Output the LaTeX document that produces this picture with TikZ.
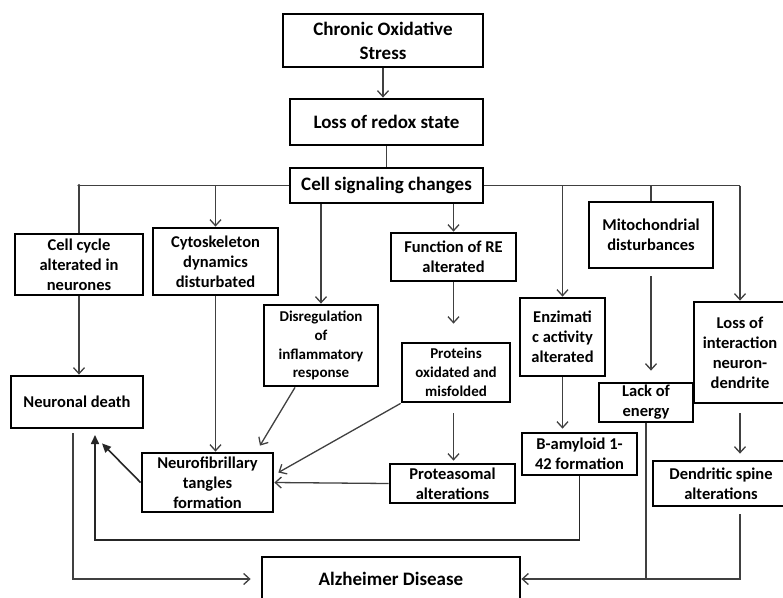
\documentclass[tikz,border=0pt]{standalone}
\usepackage{fontspec}
\setmainfont{Carlito}
\usetikzlibrary{arrows.meta}

\begin{document}
\begin{tikzpicture}[x=1pt,y=-1pt,
    box/.style={draw,line width=2.8pt,align=center,inner sep=0pt,%
      font=\bfseries\fontsize{16.5}{20}\selectfont},
    big/.style={font=\bfseries\fontsize{19}{24}\selectfont},
    small/.style={font=\bfseries\fontsize{15}{18.8}\selectfont},
    link/.style={line width=1.3pt,black!75},
    arr/.style={link,-{Straight Barb[length=6pt,width=11pt]}},
    back/.style={line width=1.6pt,black!85,-{Triangle[length=9pt,width=8pt]}}]
      \path[use as bounding box,fill=white] (0,0) rectangle (783,597) ;
      % boxes
      \node[box,big,minimum width=200,minimum height=53] (C) at (383,40.5) %
      {Chronic Oxidative\\Stress} ;
      \node[box,big,minimum width=193,minimum height=46] (R) at (386.5,122) %
      {Loss of redox state} ;
      \node[box,big,minimum width=193,minimum height=35] (S) at (386.5,185.5) %
      {Cell signaling changes} ;
      \node[box,minimum width=128,minimum height=61] (CC) at (79,264.5) %
      {Cell cycle\\alterated in\\neurones} ;
      \node[box,minimum width=125,minimum height=67] (CD) at (215.5,261.5) %
      {Cytoskeleton\\dynamics\\disturbated} ;
      \node[box,minimum width=125,minimum height=48] (RE) at (453.5,257) %
      {Function of RE\\alterated} ;
      \node[box,minimum width=124,minimum height=66] (MD) at (651,235) %
      {Mitochondrial\\disturbances} ;
      \node[box,small,minimum width=114,minimum height=81] (DI) at (321,345.5) %
      {Disregulation\\of\\inflammatory\\response} ;
      \node[box,minimum width=85,minimum height=78] (EA) at (562.5,337) %
      {Enzimati\\c activity\\alterated} ;
      \node[box,minimum width=92,minimum height=101] (LI) at (740,352.5) %
      {Loss of\\interaction\\neuron-\\dendrite} ;
      \node[box,minimum width=132,minimum height=52] (ND) at (77,402) %
      {Neuronal death} ;
      \node[box,small,minimum width=108,minimum height=59] (PO) at (456,372.5) %
      {Proteins\\oxidated and\\misfolded} ;
      \node[box,minimum width=94,minimum height=39] (LE) at (646,402.5) %
      {Lack of\\energy} ;
      \node[box,minimum width=131,minimum height=59] (NF) at (207.5,482.5) %
      {Neurofibrillary\\tangles\\formation} ;
      \node[box,minimum width=115,minimum height=42] (BA) at (579.5,454) %
      {B-amyloid 1-\\42 formation} ;
      \node[box,minimum width=125,minimum height=39] (PA) at (452.5,483.5) %
      {Proteasomal\\alterations} ;
      \node[box,minimum width=136,minimum height=45] (DS) at (721,483.5) %
      {Dendritic spine\\alterations} ;
      \node[box,big,minimum width=258,minimum height=44] (AD) at (391,579) %
      {Alzheimer Disease} ;
      % top chain and buses
      \draw[arr] (C.south) -- (C.south |- R.north) ;
      \draw[link] (R.south) -- (R.south |- S.north) ;
      \draw[link] (S.west) -- (CC.north |- S.west) -- (CC.north) ;
      \fill[black!75] (CC.north |- S.west) circle (1.6) ;
      \draw[arr] (CD.north |- S.west) -- (CD.north) ;
      \draw[arr] (S.south -| DI.north) -- (DI.north) ;
      \draw[arr] (S.south -| RE.north) -- (RE.north) ;
      \draw[link] (S.east) -- (LI.north |- S.east) ;
      \draw[arr] (EA.north |- S.east) -- (EA.north) ;
      \draw[link] (MD.north |- S.east) -- (MD.north) ;
      \draw[arr] (LI.north |- S.east) -- (LI.north) ;
      % middle
      \draw[arr] (CC.south) -- (CC.south |- ND.north) ;
      \draw[arr] (CD.south) -- (CD.south |- NF.north) ;
      \draw[arr] ([xshift=-26]DI.south) -- ([xshift=52.5,yshift=6]NF.north) ;
      \draw[arr,shorten >=18pt] (RE.south) -- (RE.south |- PO.north) ;
      \draw[arr,shorten <=10pt,shorten >=2pt] (RE.south |- PO.south) -- (RE.south |- PA.north) ;
      \draw[arr] (PO.south west) -- ([xshift=4,yshift=10]NF.east) ;
      \draw[arr] (PA.west) -- (NF.east) ;
      \draw[arr,shorten >=3pt] (EA.south) -- (EA.south |- BA.north) ;
      \draw[arr,shorten <=7pt,shorten >=11pt] (MD.south) -- (MD.south |- LE.north) ;
      \draw[arr,shorten <=9pt,shorten >=6pt] (LI.south) -- (LI.south |- DS.north) ;
      \draw[back] (NF.west) -- ([xshift=25,yshift=-14]ND.south) ;
      \coordinate (T1) at (95,540) ;
      \coordinate (T2) at (95,435) ;
      \draw[back] (BA.south) |- (T1) -- (T2) ;
      % to Alzheimer
      \draw[arr,shorten <=4pt,shorten >=10pt] ([xshift=-4]ND.south) |- (AD.west) ;
      \draw[link] (LE.south) -- (LE.south |- AD.east) ;
      \draw[arr,shorten <=7pt] (LI.south |- DS.south) |- (AD.east) ;
    \end{tikzpicture}
\end{document}
